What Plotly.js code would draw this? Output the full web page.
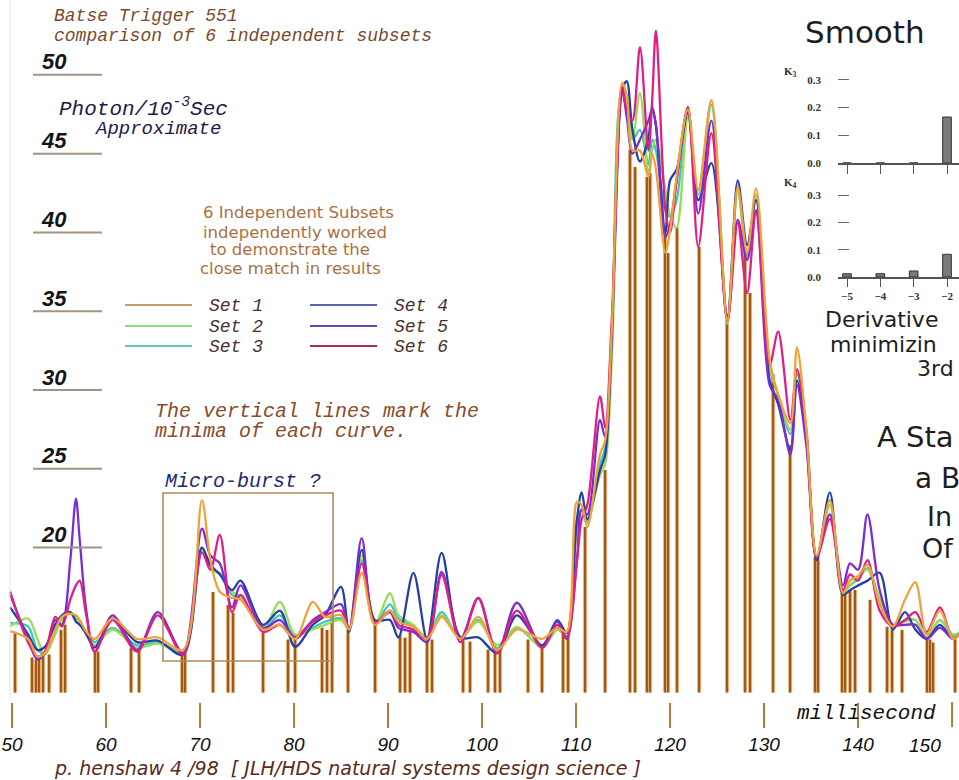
<!DOCTYPE html>
<html><head><meta charset="utf-8">
<script src="https://cdn.plot.ly/plotly-3.0.1.min.js"></script>
<style>html,body{margin:0;padding:0;background:#fff;}#chart{width:959px;height:780px;}</style>
</head><body><div id="chart"></div>
<script>
// ---------- data ----------
const timeMs = [49.8, 51.7, 52.7, 53.5, 54.6, 55.3, 56.2, 56.8, 57.2, 57.9,
 58.8, 60.7, 63.3, 65.5, 68.2, 70.2, 71.1, 72.1, 73.4, 74.3,
 76.7, 78.5, 80.1, 82.0, 83.3, 85.0, 85.85, 87.2, 88.6, 90.2,
 91.1, 92.7, 94.15, 95.7, 97.7, 99.6, 101.6, 103.7, 106.4, 108.0,
 109.0, 110.1, 110.6, 111.2, 112.55, 113.1, 113.8, 114.9, 115.4, 116.0,
 116.8, 117.7, 118.1, 118.5, 119.5, 120.0, 120.7, 121.9, 123.0, 124.4,
 126.1, 127.2, 128.2, 129.15, 130.6, 131.5, 132.8, 133.5, 134.5, 135.6,
 137.0, 138.4, 139.15, 140.0, 141.0, 142.3, 143.7, 145.0, 146.1, 147.3,
 148.7, 150.1, 150.8];

const set1 = [14.7, 14.2, 13.1, 13.3, 14.8, 15.6, 15.8, 15.7, 15.4, 14.65,
 14.2, 15.5, 14.2, 14.3, 13.5, 23.0, 19.2, 17.2, 16.8, 16.7,
 14.8, 15.1, 14.2, 16.55, 15.6, 15.7, 14.8, 18.4, 15.1, 16.0,
 15.3, 14.97, 14.2, 15.6, 14.2, 15.6, 13.5, 14.8, 14.2, 14.9,
 14.65, 22.9, 22.7, 21.3, 25.9, 26.8, 33.8, 49.5, 48.7, 45.2,
 45.2, 43.5, 45.0, 44.0, 38.7, 40.1, 43.6, 47.8, 42.7, 48.4,
 34.4, 42.9, 38.7, 42.8, 31.9, 29.7, 27.9, 32.7, 27.5, 19.5,
 23.0, 17.1, 17.9, 18.2, 18.9, 16.4, 15.0, 16.7, 17.8, 14.5,
 16.0, 14.2, 14.5];
const set2 = [15.0, 15.5, 14.2, 13.2, 14.5, 15.4, 15.9, 15.4, 15.3, 14.6,
 13.8, 14.8, 13.65, 13.9, 13.4, 19.9, 18.6, 18.4, 17.2, 16.9,
 14.9, 16.55, 14.5, 14.8, 15.1, 15.4, 14.8, 19.5, 15.2, 17.1,
 15.7, 15.1, 14.3, 15.7, 14.3, 15.3, 13.8, 14.97, 13.65, 14.8,
 14.5, 21.5, 22.4, 21.8, 24.6, 25.3, 31.9, 49.1, 48.0, 45.9,
 48.85, 43.8, 45.2, 45.9, 42.7, 41.1, 40.3, 47.3, 42.4, 48.4,
 34.2, 42.7, 38.7, 42.4, 31.6, 29.7, 27.5, 31.3, 27.2, 19.4,
 22.7, 17.3, 17.6, 18.1, 18.6, 16.7, 15.0, 15.3, 15.4, 14.3,
 15.4, 14.5, 14.6];
const set3 = [15.2, 15.0, 13.5, 13.3, 14.7, 15.5, 15.9, 15.5, 15.3, 14.6,
 14.0, 14.9, 13.8, 14.0, 13.4, 20.0, 18.7, 18.3, 17.0, 16.8,
 14.9, 15.7, 14.4, 14.9, 15.3, 15.5, 14.8, 19.2, 15.2, 16.4,
 15.5, 15.0, 14.3, 15.9, 14.2, 15.4, 13.6, 14.9, 13.7, 14.8,
 14.5, 21.8, 22.4, 21.6, 25.3, 26.3, 32.7, 49.0, 48.7, 45.9,
 46.5, 44.3, 45.9, 45.2, 41.4, 41.0, 42.05, 47.6, 42.4, 48.1,
 34.4, 42.7, 38.5, 42.4, 31.4, 29.7, 27.2, 31.0, 27.2, 19.4,
 23.0, 17.2, 17.6, 18.0, 18.7, 16.7, 15.0, 15.4, 15.4, 14.3,
 15.4, 14.4, 14.6];
const set4 = [16.2, 14.5, 13.5, 13.7, 15.1, 15.7, 15.9, 15.3, 15.1, 14.5,
 13.65, 15.5, 14.0, 14.1, 13.2, 20.0, 18.9, 18.3, 17.3, 17.9,
 15.1, 16.0, 13.7, 15.1, 15.7, 17.5, 14.65, 19.85, 15.4, 15.4,
 14.3, 18.4, 14.2, 19.66, 14.3, 14.3, 13.3, 15.7, 13.8, 15.4,
 14.6, 21.8, 23.5, 21.8, 24.9, 25.9, 33.2, 49.0, 49.6, 46.5,
 44.5, 46.0, 47.96, 46.8, 40.0, 43.3, 44.0, 47.6, 42.05, 44.4,
 34.7, 43.3, 39.2, 42.05, 30.6, 29.1, 26.2, 30.6, 26.8, 19.2,
 23.5, 17.0, 17.3, 17.6, 17.9, 18.4, 14.8, 15.9, 14.8, 14.2,
 15.1, 14.2, 14.5];
const set5 = [17.0, 14.2, 12.9, 13.3, 15.4, 15.1, 19.2, 23.1, 20.5, 16.0,
 13.4, 15.7, 13.5, 15.9, 13.3, 21.2, 19.5, 19.0, 16.2, 17.6,
 14.9, 15.4, 14.3, 15.4, 15.9, 16.4, 14.8, 20.6, 15.2, 15.9,
 14.9, 14.65, 14.0, 18.45, 14.2, 16.8, 13.3, 16.5, 13.65, 15.3,
 14.2, 19.2, 22.4, 22.1, 28.1, 27.0, 33.8, 49.0, 47.3, 45.0,
 45.9, 47.1, 47.8, 46.8, 39.7, 40.5, 43.3, 47.8, 41.2, 47.1,
 34.4, 40.8, 38.25, 41.4, 30.3, 29.4, 25.9, 30.3, 26.5, 19.4,
 22.1, 17.6, 19.0, 18.6, 22.1, 17.3, 15.1, 15.1, 15.1, 14.2,
 14.9, 14.2, 14.5];
const set6 = [17.2, 14.0, 13.1, 13.4, 15.6, 15.0, 16.7, 17.6, 17.9, 15.7,
 13.4, 15.4, 13.4, 15.7, 13.2, 19.7, 18.6, 20.8, 15.9, 17.0,
 14.65, 15.1, 14.2, 15.3, 15.7, 16.0, 14.8, 19.0, 15.2, 16.0,
 15.1, 14.8, 14.2, 18.26, 14.0, 16.8, 13.3, 16.0, 13.65, 15.1,
 14.3, 19.2, 21.8, 22.7, 29.6, 27.6, 34.4, 49.2, 47.8, 47.1,
 51.76, 45.2, 48.4, 52.8, 41.5, 40.0, 43.3, 47.96, 39.1, 46.3,
 34.4, 40.6, 36.15, 41.3, 31.6, 33.7, 28.1, 31.3, 27.5, 19.4,
 21.8, 17.3, 18.3, 17.9, 19.2, 16.0, 15.0, 15.4, 15.9, 14.65,
 16.2, 14.2, 14.5];

const setNames = ['Set 1', 'Set 2', 'Set 3', 'Set 4', 'Set 5', 'Set 6'];

const minimaMs = [50.32, 52.13, 52.55, 52.87, 53.30, 53.94, 55.21, 55.64, 58.83, 59.15,
 62.66, 63.51, 68.09, 68.40, 71.38, 72.98, 73.51, 76.70, 79.36, 80.11,
 82.98, 83.51, 84.04, 85.74, 88.62, 91.28, 91.81, 92.34, 94.15, 94.68,
 97.98, 98.72, 100.64, 101.38, 101.91, 104.89, 106.38, 108.62, 109.15, 110.96,
 113.09, 115.74, 116.28, 117.55, 117.87, 119.47, 119.79, 120.74, 123.09, 126.06,
 127.98, 128.51, 130.96, 132.77, 135.43, 135.74, 138.30, 138.62, 139.15, 139.68,
 141.28, 143.09, 143.62, 144.68, 147.34, 147.66, 147.98, 150.32];
const minimaTop = [14.65, 13.02, 12.89, 13.02, 13.21, 13.21, 14.78, 15.10, 13.40, 13.40,
 13.65, 13.52, 13.33, 13.33, 17.18, 16.36, 15.86, 14.59, 14.16, 14.16,
 14.91, 14.78, 15.73, 14.78, 15.22, 14.47, 14.28, 14.65, 14.16, 14.16,
 14.16, 14.03, 13.52, 13.33, 13.52, 14.16, 13.65, 14.78, 14.59, 21.31,
 24.92, 45.23, 44.15, 43.52, 43.77, 39.96, 38.69, 40.34, 39.07, 34.44,
 38.69, 36.15, 31.0, 26.5, 19.40, 19.40, 17.12, 17.12, 17.31, 17.31,
 16.68, 14.97, 14.78, 14.78, 14.16, 14.16, 13.97, 14.16];
const minimaFloor = 10.8;

const yTickValues = [50, 45, 40, 35, 30, 25, 20];
const xTickValues = [50, 60, 70, 80, 90, 100, 110, 120, 130, 140, 150];
const xTickLabels = ['50', '60', '70', '80', '90', '100', '110', '120', '130', '140', '150'];

const lagValues = [-5, -4, -3, -2];
const k3Weights = [0, 0, 0, 0.166];
const k4Weights = [0.012, 0.012, 0.022, 0.083];

// ---------- layout helpers ----------
const W = 959, H = 780;
const PX = p => p / W;
const PY = p => 1 - p / H;

const seriesColors = ['#f0a23a', '#98dc5a', '#3fc6bc', '#2440a4', '#7a2ed0', '#de1f88'];
const legendColors = ['#c99a6c', '#98d87c', '#5cc8ba', '#5466b2', '#6e44ba', '#b02664'];
const serifItalic = {family: 'Liberation Mono, DejaVu Sans Mono, monospace', style: 'italic'};
const tickLabelFont = {family: 'Liberation Sans, Arial, sans-serif', size: 19, style: 'italic', color: '#111'};

// minima segments
const segX = [], segY = [];
minimaMs.forEach((m, i) => { segX.push(m, m, null); segY.push(minimaFloor, minimaTop[i], null); });

const traces = [];
traces.push({x: segX, y: segY, type: 'scatter', mode: 'lines', hoverinfo: 'skip',
  line: {color: '#e8bd84', width: 4.2}, showlegend: false});
traces.push({x: segX, y: segY, type: 'scatter', mode: 'lines', hoverinfo: 'skip',
  line: {color: '#a3581b', width: 2.2}, showlegend: false});

const setData = [set1, set2, set3, set4, set5, set6];
const drawOrder = [2, 1, 3, 4, 5, 0];
drawOrder.forEach(k => {
  traces.push({x: timeMs, y: setData[k], type: 'scatter', mode: 'lines', name: setNames[k],
    line: {color: seriesColors[k], width: 2.3, shape: 'spline', smoothing: 0.9}, showlegend: false});
});

// inset bars
traces.push({x: lagValues, y: k3Weights, type: 'bar', xaxis: 'x2', yaxis: 'y2', width: 0.26,
  marker: {color: '#7a7a7a', line: {color: '#333', width: 1}}, showlegend: false});
traces.push({x: lagValues, y: k4Weights, type: 'bar', xaxis: 'x3', yaxis: 'y3', width: 0.26,
  marker: {color: '#7a7a7a', line: {color: '#333', width: 1}}, showlegend: false});

const shapes = [];
const annotations = [];

// left faint border
shapes.push({type: 'line', xref: 'paper', yref: 'paper', x0: PX(10), x1: PX(10), y0: PY(0), y1: PY(700),
  line: {color: '#e2e2e2', width: 1}});

// last x tick (its label sits left of the tick, at the page edge)
const lastTick = xTickValues[xTickValues.length - 1];
shapes.push({type: 'line', xref: 'x', yref: 'paper', x0: lastTick, x1: lastTick, y0: PY(702), y1: PY(727),
  line: {color: '#b07a42', width: 2}});
annotations.push({xref: 'x', yref: 'paper', x: lastTick, xshift: -27, y: PY(745), text: xTickLabels[xTickLabels.length - 1],
  showarrow: false, xanchor: 'center', yanchor: 'middle', font: tickLabelFont});

// y labels with underlines
yTickValues.forEach(v => {
  shapes.push({type: 'line', xref: 'paper', yref: 'y', x0: PX(33), x1: PX(102), y0: v, y1: v,
    line: {color: '#a39383', width: 2}});
  annotations.push({xref: 'paper', yref: 'y', x: PX(54), y: v, yshift: 13, text: String(v), showarrow: false,
    xanchor: 'center', yanchor: 'middle',
    font: {family: 'Liberation Sans, Arial, sans-serif', size: 22, style: 'italic', weight: 'bold', color: '#151515'}});
});

// micro-burst box
shapes.push({type: 'rect', xref: 'x', yref: 'y', x0: 66.06, x1: 84.15, y0: 12.8, y1: 23.46,
  line: {color: '#b48a55', width: 1.6}});

// legend samples
[[0, 125, 305], [1, 125, 326], [2, 125, 346], [3, 310, 305], [4, 310, 326], [5, 310, 346]].forEach(([k, x0, y]) => {
  shapes.push({type: 'line', xref: 'paper', yref: 'paper', x0: PX(x0), x1: PX(x0 + 67), y0: PY(y), y1: PY(y),
    line: {color: legendColors[k], width: 2}});
  annotations.push({xref: 'paper', yref: 'paper', x: PX(x0 + 82), y: PY(y + 1), text: setNames[k], showarrow: false,
    xanchor: 'left', yanchor: 'middle', font: Object.assign({size: 18, color: '#4a3030'}, serifItalic)});
});

function txt(t, x, y, font, anchor) {
  annotations.push({xref: 'paper', yref: 'paper', x: PX(x), y: PY(y), text: t, showarrow: false,
    xanchor: anchor || 'left', yanchor: 'middle', font: font});
}

txt('Batse Trigger 551', 52, 16, Object.assign({size: 18, color: '#7b4a2e'}, serifItalic));
txt('comparison of 6 independent subsets', 52, 36, Object.assign({size: 18, color: '#7b4a2e'}, serifItalic));
txt('Photon/10<sup>-3</sup>Sec', 57, 108, Object.assign({size: 21, color: '#1c1c44'}, serifItalic));
txt('Approximate', 93, 129, Object.assign({size: 19, color: '#1c1c44'}, serifItalic));

const handFont = {family: 'DejaVu Sans, sans-serif', size: 16.5, color: '#a9703f'};
txt('6 Independent Subsets', 298, 213, handFont, 'center');
txt('independently worked', 295, 232, handFont, 'center');
txt('to demonstrate the', 290, 250, handFont, 'center');
txt('close match in results', 290, 268, handFont, 'center');

txt('The vertical lines mark the', 153, 411, Object.assign({size: 20, color: '#8b4a2b'}, serifItalic));
txt('minima of each curve.', 153, 431, Object.assign({size: 20, color: '#8b4a2b'}, serifItalic));
txt('Micro-burst ?', 163, 481, Object.assign({size: 20, color: '#1f2a6e'}, serifItalic));
txt('millisecond', 795, 713, Object.assign({size: 21, color: '#111'}, serifItalic));
txt('p. henshaw 4 /98  [ JLH/HDS natural systems design science ]', 52, 768,
  {family: 'DejaVu Sans, sans-serif', size: 19, style: 'italic', color: '#5a2a1e'});

// right-hand slide text
const slideFont = s => ({family: 'DejaVu Sans, sans-serif', size: s, color: '#1e1e1e'});
txt('Smooth', 803, 32, slideFont(31));
txt('K<sub>3</sub>', 782, 72, {family: 'Liberation Serif, serif', size: 11, weight: 'bold', color: '#333'});
txt('K<sub>4</sub>', 782, 183, {family: 'Liberation Serif, serif', size: 11, weight: 'bold', color: '#333'});
txt('Derivative', 823, 319, slideFont(22));
txt('minimizin', 828, 344, slideFont(22));
txt('3rd', 915, 368, slideFont(22));
txt('A Sta', 875, 437, slideFont(29));
txt('a B', 913, 478, slideFont(28));
txt('In', 925, 516, slideFont(27));
txt('Of', 920, 548, slideFont(27));

const insetTickFont = {family: 'Liberation Serif, serif', size: 11, weight: 'bold', color: '#333'};

const layout = {
  width: W, height: H, margin: {l: 0, r: 0, t: 0, b: 0},
  paper_bgcolor: '#ffffff', plot_bgcolor: 'rgba(0,0,0,0)', showlegend: false,
  xaxis: {range: [48.72, 150.74], domain: [0, 1], anchor: 'free', position: 1 - 702 / 780,
    showgrid: false, zeroline: false, showline: false,
    tickmode: 'array', tickvals: xTickValues.slice(0, -1), ticktext: xTickLabels.slice(0, -1),
    ticks: 'outside', ticklen: 25, tickwidth: 2, tickcolor: '#b07a42',
    tickfont: tickLabelFont},
  yaxis: {range: [5.25, 54.75], domain: [0, 1], visible: false, fixedrange: true},
  xaxis2: {domain: [838 / W, 1], range: [-5.27, -1.64], anchor: 'y2', showgrid: false, zeroline: false,
    showline: true, linecolor: '#555', linewidth: 1.5, ticks: 'outside', ticklen: 9, tickcolor: '#555',
    tickvals: lagValues, showticklabels: false},
  yaxis2: {domain: [1 - 163 / H, 1 - 60 / H], range: [0, 0.372], anchor: 'x2', showgrid: false, zeroline: false,
    showline: false, ticks: 'inside', ticklen: 11, tickcolor: '#666', tickvals: [0, 0.1, 0.2, 0.3],
    tickformat: '.1f', tickfont: insetTickFont, ticklabelstandoff: 16},
  xaxis3: {domain: [838 / W, 1], range: [-5.27, -1.64], anchor: 'y3', showgrid: false, zeroline: false,
    showline: true, linecolor: '#555', linewidth: 1.5, ticks: 'outside', ticklen: 8, tickcolor: '#555',
    tickvals: lagValues, tickfont: insetTickFont},
  yaxis3: {domain: [1 - 277 / H, 1 - 180 / H], range: [0, 0.355], anchor: 'x3', showgrid: false, zeroline: false,
    showline: false, ticks: 'inside', ticklen: 11, tickcolor: '#666', tickvals: [0, 0.1, 0.2, 0.3],
    tickformat: '.1f', tickfont: insetTickFont, ticklabelstandoff: 16},
  shapes: shapes,
  annotations: annotations
};

Plotly.newPlot('chart', traces, layout, {staticPlot: true, displayModeBar: false});
</script>
</body></html>
